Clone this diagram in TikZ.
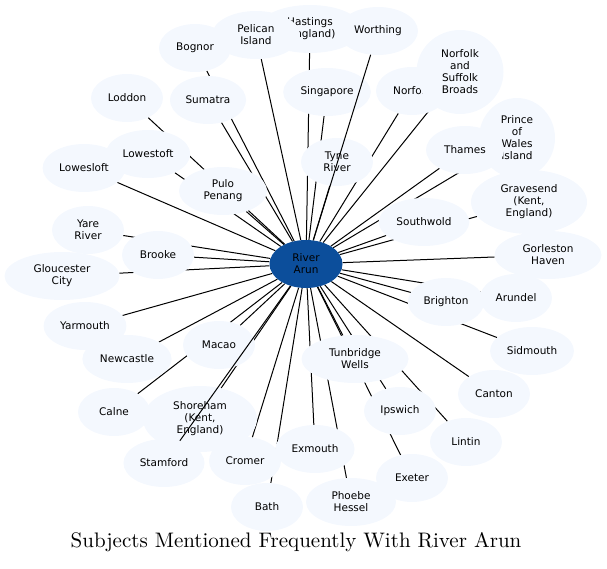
\documentclass[tikz,border=0pt]{standalone}
\usepackage{fontspec}
\newfontfamily\placefont{DejaVu Sans}
\newfontfamily\titlefont{lmroman10-regular.otf}
\usetikzlibrary{shapes.geometric,backgrounds}
\definecolor{placefill}{HTML}{F4F8FE}
\definecolor{hubfill}{HTML}{0C4E9B}

\begin{document}
\begin{tikzpicture}[x=1pt,y=-1pt,
	place/.style={ellipse,fill=placefill,inner xsep=4.5pt,inner ysep=4.5pt,
		minimum width=72pt,minimum height=48pt,align=center,
		font=\placefont\fontsize{10.5}{12}\selectfont},
	hub/.style={place,fill=hubfill},
	link/.style={line width=1pt}]
	\useasboundingbox (0,0) rectangle (607,569);
	%centre
	\node[hub,minimum width=73pt] (arun) at (306,264) {River\\Arun};
	%upper places
	\node[place,minimum width=104pt] (hastings) at (310,29) {Hastings\\(England)};
	\node[place,minimum width=88pt] (pelican) at (256,35) {Pelican\\Island};
	\node[place] (bognor) at (195,48) {Bognor};
	\node[place] (worthing) at (378,31) {Worthing};
	\node[place] (sumatra) at (208,100) {Sumatra};
	\node[place] (loddon) at (127,98) {Loddon};
	\node[place] (singapore) at (327,92) {Singapore};
	\node[place] (norfolk) at (412,91) {Norfolk};
	\node[place,minimum width=87pt,minimum height=84pt] (broads) at (460,72) {Norfolk\\and\\Suffolk\\Broads};
	\node[place,minimum width=76pt,minimum height=80pt] (prince) at (517,138) {Prince\\of\\Wales\\Island};
	\node[place,minimum width=78pt] (thames) at (465,150) {Thames};
	\node[place] (lowesloft) at (84,168) {Lowesloft};
	\node[place] (lowestoft) at (148,154) {Lowestoft};
	\node[place] (tyne) at (337,162) {Tyne\\River};
	\node[place,minimum width=88pt] (pulo) at (223,191) {Pulo\\Penang};
	\node[place,minimum width=116pt,minimum height=64pt] (gravesend) at (529,202) {Gravesend\\(Kent,\\England)};
	\node[place] (southwold) at (424,222) {Southwold};
	%middle places
	\node[place] (yare) at (88,230) {Yare\\River};
	\node[place] (brooke) at (158,255) {Brooke};
	\node[place,minimum width=107pt] (gorleston) at (548,255) {Gorleston\\Haven};
	\node[place,minimum width=115pt] (gloucester) at (62,276) {Gloucester\\City};
	\node[place] (arundel) at (516,298) {Arundel};
	\node[place] (brighton) at (446,302) {Brighton};
	\node[place] (yarmouth) at (85,326) {Yarmouth};
	\node[place] (macao) at (219,345) {Macao};
	\node[place] (newcastle) at (127,359) {Newcastle};
	\node[place] (sidmouth) at (532,351) {Sidmouth};
	\node[place,minimum width=107pt] (tunbridge) at (355,359) {Tunbridge\\Wells};
	%lower places
	\node[place] (canton) at (494,394) {Canton};
	\node[place] (calne) at (114,412) {Calne};
	\node[place,minimum width=114pt,minimum height=66pt] (shoreham) at (200,419) {Shoreham\\(Kent,\\England)};
	\node[place] (ipswich) at (400,411) {Ipswich};
	\node[place] (lintin) at (466,442) {Lintin};
	\node[place] (exmouth) at (315,449) {Exmouth};
	\node[place] (stamford) at (164,463) {Stamford};
	\node[place] (cromer) at (245,461) {Cromer};
	\node[place] (exeter) at (412,478) {Exeter};
	\node[place] (bath) at (267,507) {Bath};
	\node[place,minimum width=90pt] (phoebe) at (351,502) {Phoebe\\Hessel};
	%links behind the places
	\begin{scope}[on background layer]
		\foreach \n in {hastings,pelican,bognor,sumatra,loddon,singapore,norfolk,broads,
			prince,thames,lowesloft,lowestoft,tyne,pulo,gravesend,southwold,yare,brooke,
			gorleston,gloucester,arundel,brighton,yarmouth,macao,newcastle,sidmouth,
			tunbridge,canton,calne,shoreham,ipswich,lintin,exmouth,cromer,exeter,bath,phoebe}
			\draw[link] (arun) -- (\n);
	\end{scope}
	%links on top
	\draw[link] (arun) -- (worthing);
	\draw[link] (arun) -- (stamford);
	%title
	\node[font=\titlefont\fontsize{21}{25}\selectfont,anchor=base] (title) at (296,547) {Subjects Mentioned Frequently With River Arun};
\end{tikzpicture}
\end{document}
